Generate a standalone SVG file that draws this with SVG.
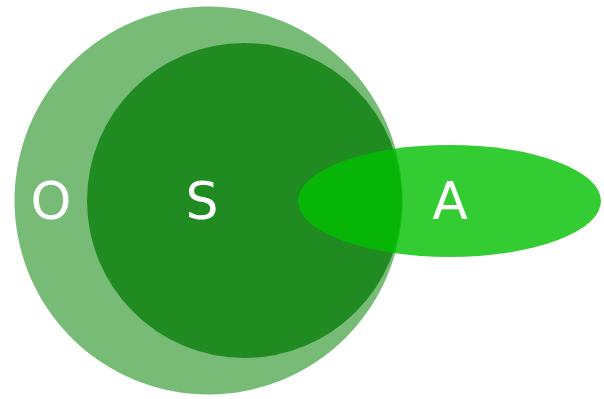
<svg xmlns="http://www.w3.org/2000/svg" width="604" height="399" viewBox="0 0 604 399">
<style>
.lbl{font-family:"DejaVu Sans",sans-serif;font-size:52px;fill:#ffffff;text-anchor:middle}
</style>
<rect width="604" height="399" fill="#ffffff"/>
<g id="O"><circle cx="208.5" cy="200.5" r="194" fill="#77bb77"/><text class="lbl" x="51" y="219">O</text></g>
<g id="S"><circle cx="244.5" cy="200.5" r="157.5" fill="#208b20"/><text class="lbl" x="202" y="219">S</text></g>
<g id="A"><ellipse cx="449.5" cy="201" rx="151.5" ry="56" fill="#00bf00" fill-opacity="0.8"/><text class="lbl" x="450" y="219">A</text></g>
<g id="connectors"/>
</svg>
